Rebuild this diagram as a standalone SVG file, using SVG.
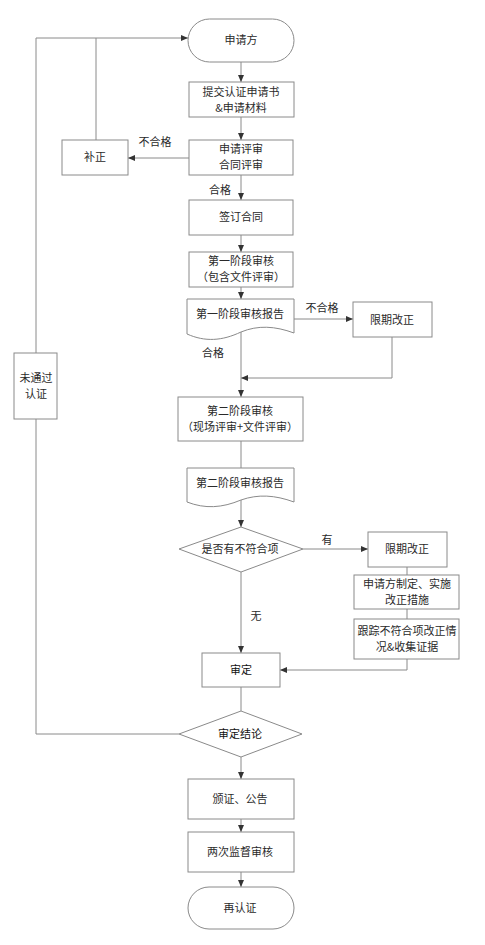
<svg xmlns="http://www.w3.org/2000/svg" width="485" height="945" viewBox="0 0 485 945">
<defs>
<marker id="arr" markerUnits="userSpaceOnUse" markerWidth="8" markerHeight="8" viewBox="0 0 8 8" refX="7" refY="4" orient="auto">
<path d="M0,1 L7,4 L0,7 Z" fill="#333"/>
</marker>
<style>
.n{fill:#fff;stroke:#8a8a8a;stroke-width:1}
.c{fill:none;stroke:#8a8a8a;stroke-width:1}
.t{font-family:"Noto Sans CJK SC","Liberation Sans",sans-serif;font-size:11px;fill:#2a2a2a;text-anchor:middle}
.b{fill:#111}
</style>
</defs>
<rect width="485" height="945" fill="#fff"/>
<g id="connectors">
<path class="c" d="M179,734 H36 V38 H188" marker-end="url(#arr)"/>
<path class="c" d="M96,140 V38"/>
<path class="c" d="M241,62 V82" marker-end="url(#arr)"/>
<path class="c" d="M241,117 V140" marker-end="url(#arr)"/>
<path class="c" d="M189,158 H128" marker-end="url(#arr)"/>
<path class="c" d="M241,175 V200" marker-end="url(#arr)"/>
<path class="c" d="M241,235 V252" marker-end="url(#arr)"/>
<path class="c" d="M241,287 V299" marker-end="url(#arr)"/>
<path class="c" d="M294,319 H353" marker-end="url(#arr)"/>
<path class="c" d="M392,337 V378 H241" marker-end="url(#arr)"/>
<path class="c" d="M241,332 V397" marker-end="url(#arr)"/>
<path class="c" d="M241,441 V468"/>
<path class="c" d="M241,500 V527" marker-end="url(#arr)"/>
<path class="c" d="M303,549 H368" marker-end="url(#arr)"/>
<path class="c" d="M407,567 V575"/>
<path class="c" d="M407,609 V619"/>
<path class="c" d="M407,659 V670 H280" marker-end="url(#arr)"/>
<path class="c" d="M241,572 V653" marker-end="url(#arr)"/>
<path class="c" d="M241,687 V711"/>
<path class="c" d="M241,757 V779" marker-end="url(#arr)"/>
<path class="c" d="M241,819 V832" marker-end="url(#arr)"/>
<path class="c" d="M241,872 V887" marker-end="url(#arr)"/>
<text class="t" x="155" y="146">不合格</text>
<text class="t" x="220" y="194">合格</text>
<text class="t" x="322" y="312">不合格</text>
<text class="t" x="213" y="357">合格</text>
<text class="t" x="327" y="544">有</text>
<text class="t" x="256" y="620">无</text>
</g>
<g id="start"><rect class="n" x="188" y="19" width="106" height="43" rx="21.5"/><text class="t" x="241" y="44">申请方</text></g>
<g id="submit"><rect class="n" x="189" y="82" width="105" height="35"/><text class="t" x="241" y="96">提交认证申请书</text><text class="t" x="241" y="112">&amp;申请材料</text></g>
<g id="review"><rect class="n" x="189" y="140" width="104" height="35"/><text class="t" x="241" y="153">申请评审</text><text class="t" x="241" y="169">合同评审</text></g>
<g id="fix"><rect class="n" x="62" y="140" width="66" height="35"/><text class="t" x="95" y="161">补正</text></g>
<g id="contract"><rect class="n" x="189" y="200" width="104" height="35"/><text class="t" x="241" y="221">签订合同</text></g>
<g id="stage1"><rect class="n" x="189" y="252" width="104" height="35"/><text class="t" x="241" y="265">第一阶段审核</text><text class="t" x="241" y="281">（包含文件评审）</text></g>
<g id="report1"><path class="n" d="M187,299 H294 V333 C275,326 258,325 241,332 C222,341 205,342 187,334 Z"/><text class="t" x="240" y="318">第一阶段审核报告</text></g>
<g id="rect1"><rect class="n" x="353" y="302" width="79" height="35"/><text class="t" x="392" y="324">限期改正</text></g>
<g id="fail"><rect class="n" x="14" y="353" width="43" height="66"/><text class="t" x="36" y="381.5">未通过</text><text class="t" x="36" y="397.5">认证</text></g>
<g id="stage2"><rect class="n" x="178" y="397" width="125" height="44"/><text class="t" x="240" y="414.5">第二阶段审核</text><text class="t" x="240" y="430.5">（现场评审+文件评审）</text></g>
<g id="report2"><path class="n" d="M187,468 H294 V502 C275,495 258,494 241,500 C222,508 205,509 187,502 Z"/><text class="t" x="240" y="487">第二阶段审核报告</text></g>
<g id="nc"><polygon class="n" points="241,527 303,549 241,572 179,549"/><text class="t" x="240" y="553">是否有不符合项</text></g>
<g id="rect2"><rect class="n" x="368" y="532" width="79" height="35"/><text class="t" x="407" y="553">限期改正</text></g>
<g id="measure"><rect class="n" x="354" y="575" width="105" height="34"/><text class="t" x="407" y="587.5">申请方制定、实施</text><text class="t" x="407" y="603.5">改正措施</text></g>
<g id="track"><rect class="n" x="354" y="619" width="105" height="40"/><text class="t" x="407" y="634.5">跟踪不符合项改正情</text><text class="t" x="407" y="650.5">况&amp;收集证据</text></g>
<g id="approve"><rect class="n" x="202" y="653" width="78" height="34"/><text class="t b" x="241" y="674">审定</text></g>
<g id="conclusion"><polygon class="n" points="241,711 302,734 241,757 179,734"/><text class="t b" x="240" y="738">审定结论</text></g>
<g id="issue"><rect class="n" x="188" y="779" width="106" height="40"/><text class="t" x="240" y="803">颁证、公告</text></g>
<g id="surveil"><rect class="n" x="188" y="832" width="106" height="40"/><text class="t" x="240" y="856">两次监督审核</text></g>
<g id="recert"><rect class="n" x="188" y="887" width="106" height="42" rx="21"/><text class="t" x="240" y="912">再认证</text></g>
</svg>
